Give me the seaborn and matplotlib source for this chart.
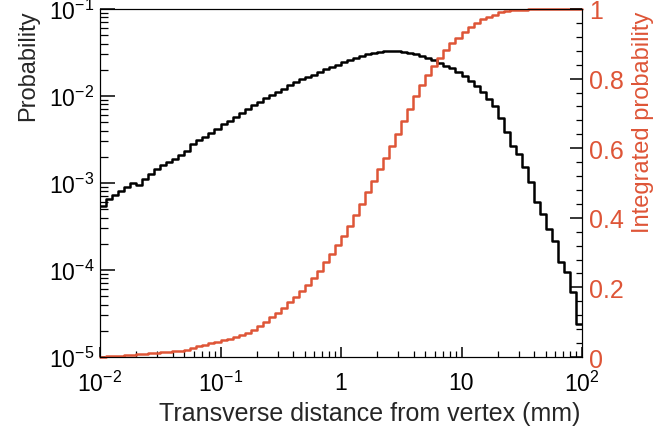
import numpy as np
import pandas as pd
import matplotlib
matplotlib.use("Agg")
import matplotlib.pyplot as plt
import matplotlib.ticker as mticker
import seaborn as sns

# ---------------- data ----------------
x_min, x_max, n_bins = 1e-2, 1e2, 80

probability = [
    5.5e-4, 6.6e-4, 7.2e-4, 8.1e-4, 8.9e-4, 1.00e-3, 9.5e-4, 1.12e-3, 1.26e-3, 1.45e-3,
    1.62e-3, 1.74e-3, 1.91e-3, 2.09e-3, 2.34e-3, 2.82e-3, 3.09e-3, 3.39e-3, 3.72e-3, 4.17e-3,
    4.79e-3, 5.13e-3, 5.75e-3, 6.31e-3, 7.08e-3, 7.94e-3, 8.51e-3, 9.55e-3, 1.02e-2, 1.12e-2,
    1.20e-2, 1.35e-2, 1.45e-2, 1.58e-2, 1.66e-2, 1.74e-2, 1.91e-2, 2.04e-2, 2.14e-2, 2.29e-2,
    2.45e-2, 2.57e-2, 2.75e-2, 2.88e-2, 3.02e-2, 3.09e-2, 3.24e-2, 3.31e-2, 3.31e-2, 3.31e-2,
    3.24e-2, 3.09e-2, 3.02e-2, 2.88e-2, 2.75e-2, 2.57e-2, 2.40e-2, 2.19e-2, 2.09e-2, 1.91e-2,
    1.70e-2, 1.48e-2, 1.29e-2, 1.12e-2, 9.33e-3, 7.76e-3, 5.62e-3, 3.89e-3, 2.69e-3, 2.14e-3,
    1.51e-3, 1.02e-3, 6.03e-4, 4.37e-4, 2.95e-4, 2.14e-4, 1.23e-4, 9.55e-5, 5.62e-5, 2.40e-5,
]

integrated = [
    0.001, 0.0015, 0.003, 0.004, 0.005, 0.006, 0.008, 0.009, 0.011, 0.012,
    0.0135, 0.015, 0.016, 0.018, 0.0215, 0.026, 0.031, 0.035, 0.040, 0.044,
    0.048, 0.052, 0.057, 0.062, 0.070, 0.079, 0.088, 0.101, 0.114, 0.126,
    0.141, 0.157, 0.172, 0.190, 0.208, 0.227, 0.247, 0.272, 0.296, 0.322,
    0.349, 0.376, 0.407, 0.440, 0.474, 0.507, 0.539, 0.572, 0.606, 0.641,
    0.678, 0.713, 0.749, 0.782, 0.809, 0.835, 0.859, 0.882, 0.902, 0.918,
    0.934, 0.947, 0.960, 0.971, 0.978, 0.984, 0.990, 0.993, 0.996, 0.997,
    0.9985, 0.999, 0.9995, 1.0, 1.0, 1.0, 1.0, 1.0, 1.0, 1.0,
]

x_ticks = [1e-2, 1e-1, 1, 10, 1e2]
x_tick_labels = [r"$10^{-2}$", r"$10^{-1}$", "1", "10", r"$10^{2}$"]
y_ticks = [1e-5, 1e-4, 1e-3, 1e-2, 1e-1]
y_tick_labels = [r"$10^{-5}$", r"$10^{-4}$", r"$10^{-3}$", r"$10^{-2}$", r"$10^{-1}$"]
y2_ticks = [0, 0.2, 0.4, 0.6, 0.8, 1.0]
y2_tick_labels = ["0", "0.2", "0.4", "0.6", "0.8", "1"]

x_label = "Transverse distance from vertex (mm)"
y_label = "Probability"
y2_label = "Integrated probability"

# ---------------- styling ----------------
sns.set_style("ticks", {"xtick.direction": "in", "ytick.direction": "in",
                        "xtick.color": "black", "ytick.color": "black",
                        "axes.edgecolor": "black", "axes.linewidth": 1.6,
                        "axes.axisbelow": False})
plt.rcParams["font.family"] = ["Liberation Sans", "DejaVu Sans"]
plt.rcParams["mathtext.fontset"] = "custom"
plt.rcParams["mathtext.rm"] = "Liberation Sans"
plt.rcParams["axes.unicode_minus"] = False

RED = "#de5537"
W, H = 654, 431

edges = np.logspace(np.log10(x_min), np.log10(x_max), n_bins + 1)
df = pd.DataFrame({
    "edge": edges,
    "prob": probability + [probability[-1]],
    "cum": integrated + [integrated[-1]],
})

fig = plt.figure(figsize=(W / 100, H / 100), dpi=100)
ax = fig.add_axes([100 / W, 1 - 358 / H, 482 / W, 348 / H])
ax.set_xscale("log")
ax.set_yscale("log")
sns.lineplot(data=df, x="edge", y="prob", drawstyle="steps-post",
             color="black", linewidth=1.8, estimator=None, ax=ax)
ax.set_xlim(x_min, x_max)
ax.set_ylim(1e-5, 1e-1)

ax2 = ax.twinx()
sns.lineplot(data=df, x="edge", y="cum", drawstyle="steps-post",
             color=RED, linewidth=1.8, estimator=None, ax=ax2, clip_on=False)
ax2.set_ylim(0, 1)
ax2.set_xlim(x_min, x_max)

# bottom axis
ax.set_xticks(x_ticks)
ax.set_xticklabels(x_tick_labels, fontsize=16.5)
ax.xaxis.set_minor_locator(mticker.LogLocator(base=10, subs=np.arange(2, 10), numticks=20))
ax.xaxis.set_minor_formatter(mticker.NullFormatter())
ax.tick_params(axis="x", which="major", direction="in", length=7, width=1.1,
               color="black", bottom=True, top=False, pad=10)
ax.tick_params(axis="x", which="minor", direction="in", length=4, width=0.9,
               color="black", bottom=True, top=False)

# left axis
ax.set_yticks(y_ticks)
ax.set_yticklabels(y_tick_labels, fontsize=16.5)
ax.yaxis.set_minor_locator(mticker.LogLocator(base=10, subs=np.arange(2, 10), numticks=20))
ax.yaxis.set_minor_formatter(mticker.NullFormatter())
ax.tick_params(axis="y", which="major", direction="in", length=11, width=1.1,
               color="black", left=True, right=False, pad=4)
ax.tick_params(axis="y", which="minor", direction="in", length=5.5, width=0.9,
               color="black", left=True, right=False)

# right axis
ax2.set_yticks(y2_ticks)
ax2.set_yticklabels(y2_tick_labels, fontsize=18, color=RED)
ax2.yaxis.set_minor_locator(mticker.MultipleLocator(0.04))
ax2.tick_params(axis="y", which="major", direction="in", length=9, width=1.1,
                color="black", pad=5)
ax2.tick_params(axis="y", which="minor", direction="in", length=4.5, width=0.9,
                color="black")

ax.set_xlabel("")
ax.set_ylabel("")
ax2.set_ylabel("")

fig.text(580 / W, 1 - 421 / H, x_label, ha="right", va="baseline", fontsize=18)
fig.text(28 / W, 1 - 10 / H, y_label, rotation=90, ha="center", va="top", fontsize=17)
fig.text(643 / W, 1 - 12 / H, y2_label, rotation=90, ha="center", va="top",
         fontsize=17, color=RED)

fig.savefig("out.png", dpi=100)
